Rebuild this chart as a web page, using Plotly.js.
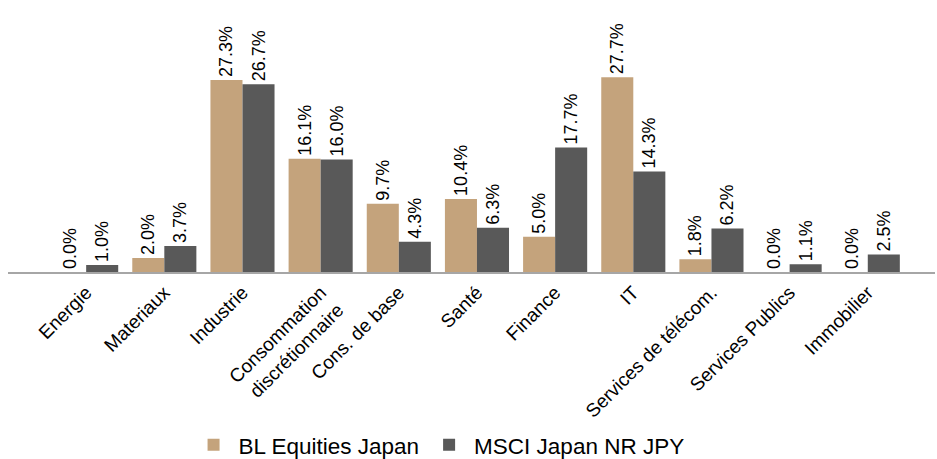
<!DOCTYPE html>
<html><head><meta charset="utf-8">
<script src="https://cdn.plot.ly/plotly-3.0.1.min.js"></script>
<style>html,body{margin:0;padding:0;background:#fff}#chart{width:937px;height:459px}</style>
</head><body><div id="chart"></div>
<script>
const categories = ["Energie","Materiaux","Industrie","Consommation<br>discrétionnaire","Cons. de base","Santé","Finance","IT","Services de télécom.","Services Publics","Immobilier"];
const blValues = [0.0, 2.0, 27.3, 16.1, 9.7, 10.4, 5.0, 27.7, 1.8, 0.0, 0.0];
const msciValues = [1.0, 3.7, 26.7, 16.0, 4.3, 6.3, 17.7, 14.3, 6.2, 1.1, 2.5];
const seriesNames = ["BL Equities Japan", "MSCI Japan NR JPY"];

const fmt = v => v.toFixed(1) + "%";
const common = {
  type: "bar", textposition: "outside", textangle: -90, cliponaxis: false,
  textfont: {family: "Liberation Sans, Arial, sans-serif", size: 18, color: "#000"},
  hoverinfo: "skip"
};
const traces = [
  Object.assign({}, common, {name: seriesNames[0], x: categories.map((c,i)=>i), y: blValues, text: blValues.map(fmt), marker: {color: "#c4a37c"}}),
  Object.assign({}, common, {name: seriesNames[1], x: categories.map((c,i)=>i), y: msciValues, text: msciValues.map(fmt), marker: {color: "#595959"}})
];
const layout = {
  width: 937, height: 459,
  margin: {l: 8, r: 2, t: 0, b: 187},
  barmode: "group", bargap: 0.18, bargroupgap: 0,
  uniformtext: {mode: "show", minsize: 18},
  paper_bgcolor: "#fff", plot_bgcolor: "#fff",
  font: {family: "Liberation Sans, Arial, sans-serif", color: "#000"},
  xaxis: {
    range: [-1, 10.86], tickmode: "array", tickvals: categories.map((c,i)=>i), ticktext: categories,
    tickangle: -45, tickfont: {size: 19}, showline: true, linecolor: "#a6a6a6", linewidth: 2,
    showgrid: false, zeroline: false, ticks: "", fixedrange: true, automargin: false
  },
  yaxis: {range: [0, 38.7], visible: false, showgrid: false, zeroline: false, automargin: false},
  showlegend: true,
  legend: {orientation: "h", x: 0.465, xanchor: "center", yref: "container", y: 0.03, yanchor: "middle", font: {size: 22.5}, itemwidth: 40, traceorder: "normal"}
};
Plotly.newPlot("chart", traces, layout, {displayModeBar: false, staticPlot: true});
</script></body></html>
